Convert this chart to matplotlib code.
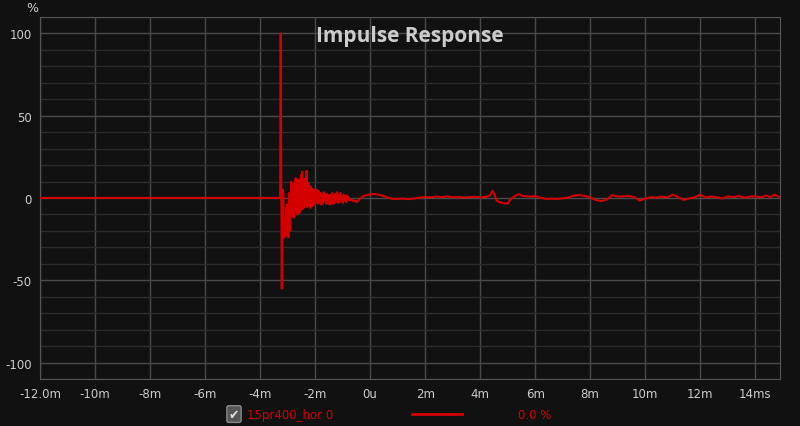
import numpy as np
import matplotlib.pyplot as plt
from matplotlib.ticker import MultipleLocator, FixedLocator
from matplotlib.lines import Line2D

plt.rcParams['axes.unicode_minus'] = False

# impulse response: time in ms, amplitude in %
time_ms = [-12.0, -3.30, -3.27, -3.25, -3.23, -3.21, -3.19, -3.17, -3.15, -3.13,
           -3.11, -3.09, -3.07, -3.05, -3.03, -3.01, -2.99, -2.97, -2.95, -2.93,
           -2.91, -2.89, -2.87, -2.85, -2.83, -2.81, -2.79, -2.77, -2.75, -2.73,
           -2.71, -2.69, -2.67, -2.65, -2.63, -2.61, -2.59, -2.57, -2.55, -2.53,
           -2.51, -2.49, -2.47, -2.45, -2.43, -2.41, -2.39, -2.37, -2.35, -2.33,
           -2.31, -2.29, -2.27, -2.25, -2.23, -2.21, -2.19, -2.17, -2.15, -2.13,
           -2.11, -2.09, -2.07, -2.05, -2.03, -2.01, -1.98, -1.95, -1.92, -1.89,
           -1.86, -1.83, -1.80, -1.77, -1.74, -1.71, -1.68, -1.65, -1.62, -1.59,
           -1.56, -1.53, -1.50, -1.47, -1.44, -1.41, -1.38, -1.35, -1.32, -1.29,
           -1.26, -1.23, -1.20, -1.17, -1.14, -1.11, -1.08, -1.05, -1.02, -0.99,
           -0.96, -0.93, -0.90, -0.87, -0.84, -0.81, -0.78, -0.74, -0.70, -0.65,
           -0.60, -0.55, -0.50, -0.45, -0.40, -0.35, -0.28, -0.20, -0.10, 0.0,
           0.15, 0.30, 0.45, 0.60, 0.80, 1.00, 1.20, 1.40, 1.60, 1.80,
           2.00, 2.20, 2.40, 2.60, 2.80, 3.00, 3.20, 3.40, 3.60, 3.80,
           4.00, 4.20, 4.35, 4.45, 4.52, 4.60, 4.70, 4.85, 5.00, 5.10,
           5.20, 5.30, 5.40, 5.55, 5.70, 5.85, 6.00, 6.20, 6.40, 6.60,
           6.80, 7.00, 7.20, 7.40, 7.60, 7.80, 8.00, 8.20, 8.40, 8.60,
           8.80, 9.00, 9.20, 9.40, 9.60, 9.80, 10.00, 10.20, 10.40, 10.60,
           10.80, 11.00, 11.20, 11.40, 11.60, 11.80, 12.00, 12.20, 12.40, 12.60,
           12.80, 13.00, 13.20, 13.40, 13.60, 13.80, 14.00, 14.20, 14.40, 14.55,
           14.70, 14.90]
amplitude = [0.0, 0.0, 0.0, 100.0, 8.0, -55.0, -8.0, 5.0, 2.0, -20.0,
             -24.0, -15.0, -23.0, -6.0, -22.0, -4.0, -12.0, -24.0, 3.0, -20.0,
             -5.0, -11.0, 10.0, -4.0, 8.0, -11.0, 6.0, -12.0, 9.0, -6.0,
             12.0, -8.0, 5.0, -10.0, 10.0, -5.0, 11.0, -9.0, 7.0, -3.0,
             14.0, -7.0, 16.0, -5.0, 9.0, -6.0, 11.0, -4.0, 12.0, -2.0,
             16.5, -5.5, 7.0, -5.0, 9.0, -4.0, 6.5, -6.0, 7.0, -3.5,
             5.5, -5.0, 4.0, -3.0, 5.0, -4.0, 3.5, -2.5, 5.0, -3.5,
             4.0, -2.0, 3.0, -4.0, 2.5, -3.0, 3.5, -1.5, 2.0, -3.5,
             2.5, -3.0, 1.5, -4.0, 2.0, -2.5, 3.0, -3.5, 1.0, -3.0,
             2.5, -2.0, 3.5, -3.0, 1.5, -2.5, 3.0, -2.0, 1.0, -3.0,
             2.0, -1.5, 1.0, -2.5, 1.5, -1.0, 0.5, -1.5, -1.0, -1.5,
             -2.0, -1.5, -2.5, -2.0, -1.0, 0.0, 0.8, 1.5, 1.8, 2.2,
             2.4, 2.0, 1.5, 0.5, -0.5, -0.6, -0.4, -0.7, -0.3, 0.2,
             0.6, 0.3, 0.9, 0.5, 1.0, 0.4, 0.6, 0.2, 0.5, 0.7,
             0.4, 0.6, 1.5, 4.4, 2.0, -1.6, -2.5, -3.2, -3.4, -1.0,
             0.5, 1.5, 2.3, 1.2, 1.0, 0.8, 1.1, 0.2, -0.6, -0.4,
             -0.6, -0.2, 0.3, 1.4, 1.8, 1.2, 0.4, -1.2, -1.9, -1.0,
             1.8, 0.8, 1.0, 1.2, 0.6, -1.6, -0.4, 0.5, 0.2, 0.8,
             0.3, 2.0, 0.6, -1.2, -0.2, 0.4, 2.0, 0.3, 0.9, 0.4,
             -0.3, 1.0, 0.5, 1.2, 0.2, 0.8, 1.0, 0.4, 1.5, 0.5,
             2.0, 0.4]

x_ticks = [-12, -10, -8, -6, -4, -2, 0, 2, 4, 6, 8, 10, 12, 14]
x_labels = ['-12.0m', '-10m', '-8m', '-6m', '-4m', '-2m', '0u',
            '2m', '4m', '6m', '8m', '10m', '12m', '14ms']
y_ticks = [-100, -50, 0, 50, 100]
trace_name = '15pr400_hor 0'
trace_value = '0.0 %'

bg = '#111111'
red = '#d40000'
txt = '#cccccc'

fig = plt.figure(figsize=(8, 4.27), dpi=100, facecolor=bg)
ax = fig.add_axes([0.05, 0.11, 0.925, 0.848], facecolor=bg)

ax.plot(time_ms, amplitude, color=red, lw=1.5, zorder=3)

ax.set_xlim(-12, 14.9)
ax.set_ylim(-110, 110)
ax.xaxis.set_major_locator(FixedLocator(x_ticks))
ax.set_xticklabels(x_labels)
ax.yaxis.set_major_locator(FixedLocator(y_ticks))
ax.yaxis.set_minor_locator(MultipleLocator(10))

ax.grid(which='major', color='#4a4a4a', lw=1)
ax.grid(which='minor', axis='y', color='#2c2c2c', lw=1)
ax.set_axisbelow(True)
for s in ax.spines.values():
    s.set_color('#555555')
ax.tick_params(which='both', length=0, colors=txt, labelsize=8.5, pad=6)

ax.text(0.5, 0.95, 'Impulse Response', transform=ax.transAxes, ha='center', va='center',
        color=txt, fontsize=15, fontweight='bold', family='Open Sans')
fig.text(0.04, 0.98, '%', color=txt, fontsize=9, ha='center', va='center')

# legend row under the chart
fig.text(0.2925, 0.028, '\u2714', color='#dddddd', fontsize=9, ha='center', va='center',
         bbox=dict(boxstyle='round,pad=0.15', fc='#555555', ec='#888888'))
fig.text(0.309, 0.028, trace_name, color=red, fontsize=8.5, ha='left', va='center')
fig.add_artist(Line2D([0.515, 0.578], [0.028, 0.028], color=red, lw=2, transform=fig.transFigure))
fig.text(0.647, 0.028, trace_value, color=red, fontsize=8.5, ha='left', va='center')

fig.savefig('out.png', dpi=100, facecolor=bg)
